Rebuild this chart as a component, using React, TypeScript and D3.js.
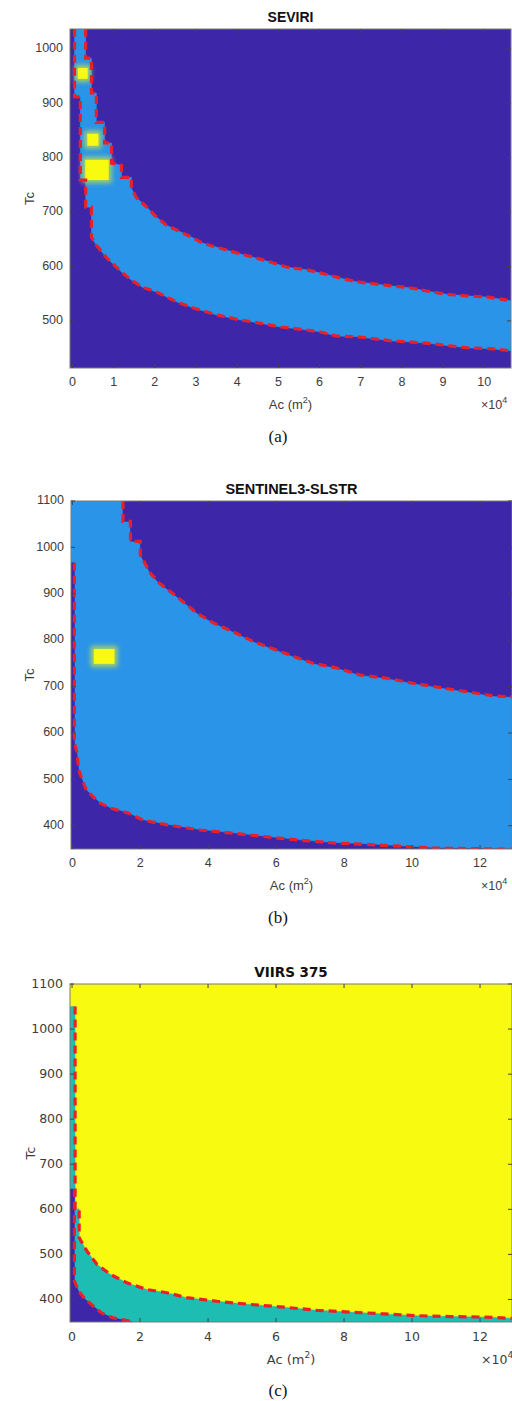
import React from 'react';
import * as d3 from 'd3';

// ---------- colours ----------
const DARK = '#3e26a8';
const LIGHT = '#2994e8';
const TEAL = '#1dbdb4';
const YELLOW = '#f8fa0f';
const RED = '#e8202a';

// ---------- panel (a) SEVIRI ----------
const aUpperA = [0.32, 0.32, 0.46, 0.46, 0.58, 0.58, 0.78, 0.78, 0.95, 0.95, 1.19, 1.19, 1.43, 1.43, 1.56, 1.75, 2.04, 2.28, 2.53, 2.89, 3.16, 3.57, 3.99, 4.54, 4.86, 5.2, 5.69, 6.08, 6.49, 6.9, 7.34, 7.78, 8.19, 8.6, 9.09, 9.57, 10.06, 10.65];
const aUpperT = [1037, 983, 983, 919, 919, 865, 865, 827, 827, 790, 786, 764, 764, 744, 726, 713, 691, 676, 667, 654, 643, 634, 625, 614, 607, 599, 594, 587, 579, 572, 568, 564, 561, 555, 549, 546, 544, 537];
const aLowerA = [0.05, 0.05, 0.19, 0.19, 0.32, 0.32, 0.46, 0.46, 0.58, 0.83, 1.19, 1.43, 1.7, 2.04, 2.53, 2.92, 3.5, 4.06, 4.54, 5.03, 5.52, 6.0, 6.42, 6.9, 7.34, 7.78, 8.26, 8.75, 9.16, 9.65, 10.13, 10.65];
const aLowerT = [1037, 912, 912, 759, 759, 709, 709, 654, 639, 616, 590, 575, 562, 553, 535, 524, 511, 502, 496, 489, 485, 480, 472, 471, 467, 463, 461, 458, 454, 450, 449, 445];
const aCellA0 = [0.13, 0.36, 0.31];
const aCellA1 = [0.37, 0.63, 0.88];
const aCellT0 = [945, 822, 759];
const aCellT1 = [965, 844, 796];
const aXTicks = [0, 1, 2, 3, 4, 5, 6, 7, 8, 9, 10];
const aYTicks = [500, 600, 700, 800, 900, 1000];

// ---------- panel (b) SENTINEL3-SLSTR ----------
const bUpperA = [1.49, 1.49, 1.71, 1.71, 2.0, 2.0, 2.29, 2.54, 2.88, 3.26, 3.67, 4.16, 4.74, 5.33, 5.92, 6.51, 7.1, 7.79, 8.47, 9.26, 10.04, 10.82, 11.61, 12.39, 12.94];
const bUpperT = [1100, 1056, 1056, 1013, 1013, 984, 945, 924, 905, 883, 858, 837, 818, 797, 781, 765, 750, 740, 725, 718, 707, 698, 689, 680, 678];
const bLowerA = [-0.04, 0.06, 0.06, 0.13, 0.19, 0.29, 0.41, 0.62, 0.82, 1.12, 1.62, 2.09, 2.79, 3.76, 4.74, 5.74, 6.71, 7.68, 8.68, 9.65, 10.62, 11.62, 12.94];
const bLowerT = [967, 967, 580, 560, 520, 499, 477, 462, 449, 438, 428, 412, 402, 391, 384, 376, 369, 363, 360, 356, 352, 351, 349.5];
const bCellA0 = [0.63];
const bCellA1 = [1.24];
const bCellT0 = [749];
const bCellT1 = [781];
const bXTicks = [0, 2, 4, 6, 8, 10, 12];
const bYTicks = [400, 500, 600, 700, 800, 900, 1000, 1100];

// ---------- panel (c) VIIRS 375 ----------
const cUpperA = [-0.06, 0.09, 0.09, 0.21, 0.21, 0.43, 0.73, 1.12, 1.61, 2.2, 2.79, 3.37, 4.26, 5.24, 6.22, 7.2, 8.18, 9.16, 10.14, 11.12, 12.1, 12.94];
const cUpperT = [1050, 1050, 601, 601, 537, 508, 478, 456, 437, 422, 415, 404, 396, 389, 383, 376, 372, 368, 364, 362, 361, 358];
const cLowerA = [-0.06, 0.07, 0.07, 0.19, 0.38, 0.63, 0.87, 1.21, 1.71, 1.76];
const cLowerT = [645, 645, 441, 419, 401, 385, 370, 359, 352, 350];
const cXTicks = [0, 2, 4, 6, 8, 10, 12];
const cYTicks = [400, 500, 600, 700, 800, 900, 1000, 1100];

type Pt = [number, number];
const zip = (a: number[], t: number[]): Pt[] => a.map((v, i) => [v, t[i]] as Pt);

interface Region { pts: Pt[]; fill: string; }
interface Cell { a0: number; a1: number; t0: number; t1: number; }
interface PanelProps {
  id: string;
  l: number; r: number; t: number; b: number;
  xDom: [number, number]; yDom: [number, number];
  xTicks: number[]; yTicks: number[];
  title: string; titleSize: number;
  font: string;
  bg: string;
  regions: Region[];
  lines: Pt[][];
  cells: Cell[];
  caption: string;
}

function Panel(p: PanelProps) {
  const x = d3.scaleLinear().domain(p.xDom).range([p.l, p.r]);
  const y = d3.scaleLinear().domain(p.yDom).range([p.b, p.t]);
  const line = d3.line<Pt>().x(d => x(d[0])).y(d => y(d[1]));
  const cx = (p.l + p.r) / 2;
  const cy = (p.t + p.b) / 2;
  const tl = 4;
  const tickColor = '#3c3c3c';
  return (
    <g fontFamily={p.font}>
      <defs>
        <clipPath id={`clip-${p.id}`}>
          <rect x={p.l} y={p.t} width={p.r - p.l} height={p.b - p.t} />
        </clipPath>
      </defs>
      <g clipPath={`url(#clip-${p.id})`}>
        <rect x={p.l} y={p.t} width={p.r - p.l} height={p.b - p.t} fill={p.bg} />
        {p.regions.map((rg, i) => (
          <path key={i} d={line(rg.pts) + 'Z'} fill={rg.fill} stroke={rg.fill} strokeWidth={0.5} />
        ))}
        {p.cells.map((c, i) => (
          <g key={i}>
            <rect x={x(c.a0) - 3} y={y(c.t1) - 3} width={x(c.a1) - x(c.a0) + 6} height={y(c.t0) - y(c.t1) + 6}
              fill="#b9dc52" opacity={0.85} filter="url(#glow)" />
            <rect x={x(c.a0)} y={y(c.t1)} width={x(c.a1) - x(c.a0)} height={y(c.t0) - y(c.t1)} fill={YELLOW} />
          </g>
        ))}
        {p.lines.map((ln, i) => (
          <path key={i} d={line(ln) || ''} fill="none" stroke={RED} strokeWidth={3.2} strokeDasharray="8 5" />
        ))}
      </g>
      <rect x={p.l} y={p.t} width={p.r - p.l} height={p.b - p.t} fill="none" stroke="#7a7a7a" strokeWidth={1} />
      {p.xTicks.map(v => (
        <g key={'x' + v}>
          <line x1={x(v)} x2={x(v)} y1={p.b} y2={p.b - tl} stroke="#444" />
          <line x1={x(v)} x2={x(v)} y1={p.t} y2={p.t + tl} stroke="#444" />
          <text x={x(v)} y={p.b + 15} textAnchor="middle" dominantBaseline="middle" fontSize={12.5} fill={tickColor}>{v}</text>
        </g>
      ))}
      {p.yTicks.map(v => (
        <g key={'y' + v}>
          <line x1={p.l} x2={p.l + tl} y1={y(v)} y2={y(v)} stroke="#444" />
          <line x1={p.r} x2={p.r - tl} y1={y(v)} y2={y(v)} stroke="#444" />
          <text x={p.l - 7} y={y(v)} textAnchor="end" dominantBaseline="middle" fontSize={12.5} fill={tickColor}>{v}</text>
        </g>
      ))}
      <text x={cx} y={p.t - 11} textAnchor="middle" dominantBaseline="middle" fontSize={p.titleSize} fontWeight="bold" fill="#111">{p.title}</text>
      <text transform={`translate(31,${cy}) rotate(-90)`} textAnchor="middle" dominantBaseline="middle" fontSize={13} fill={tickColor}>Tc</text>
      <text x={cx} y={p.b + 38} textAnchor="middle" dominantBaseline="middle" fontSize={13} fill={tickColor}>
        Ac (m<tspan fontSize={9} dy={-5}>2</tspan><tspan dy={5}>)</tspan>
      </text>
      <text x={481} y={p.b + 38} dominantBaseline="middle" fontSize={12.5} fill={tickColor}>
        ×10<tspan fontSize={9} dy={-5}>4</tspan>
      </text>
      <text x={278} y={p.b + 70} textAnchor="middle" dominantBaseline="middle" fontSize={17}
        fontFamily="'Liberation Serif', 'DejaVu Serif', serif" fill="#111">{p.caption}</text>
    </g>
  );
}

export default function App() {
  const aUp = zip(aUpperA, aUpperT);
  const aLo = zip(aLowerA, aLowerT);
  const bUp = zip(bUpperA, bUpperT);
  const bLo = zip(bLowerA, bLowerT);
  const cUp = zip(cUpperA, cUpperT);
  const cLo = zip(cLowerA, cLowerT);
  const toCells = (a0: number[], a1: number[], t0: number[], t1: number[]): Cell[] =>
    a0.map((v, i) => ({ a0: v, a1: a1[i], t0: t0[i], t1: t1[i] }));

  const aX: [number, number] = [-0.06, 10.65];
  const aY: [number, number] = [413.4, 1036.6];
  const bX: [number, number] = [-0.04, 12.94];
  const bY: [number, number] = [350, 1100];
  const cX: [number, number] = [-0.06, 12.94];
  const cY: [number, number] = [350, 1100];

  const sans = "'Liberation Sans', Arial, Helvetica, sans-serif";
  const deja = "'DejaVu Sans', sans-serif";

  return (
    <svg width={512} height={1401} style={{ position: 'absolute', left: 0, top: 0, background: '#fff' }}>
      <defs>
        <filter id="glow" x="-50%" y="-50%" width="200%" height="200%">
          <feGaussianBlur stdDeviation={2.5} />
        </filter>
      </defs>
      <rect x={0} y={0} width={512} height={1401} fill="#fff" />
      <Panel id="a" l={70} r={511} t={29} b={368} xDom={aX} yDom={aY}
        xTicks={aXTicks} yTicks={aYTicks} title="SEVIRI" titleSize={14} font={sans} bg={DARK}
        regions={[{ pts: [...aUp, ...aLo.slice().reverse()], fill: LIGHT }]}
        lines={[aUp, aLo]} cells={toCells(aCellA0, aCellA1, aCellT0, aCellT1)} caption="(a)" />
      <Panel id="b" l={71} r={512} t={501} b={849} xDom={bX} yDom={bY}
        xTicks={bXTicks} yTicks={bYTicks} title="SENTINEL3-SLSTR" titleSize={14.5} font={sans} bg={LIGHT}
        regions={[
          { pts: [...bUp, [bX[1], bY[1]]], fill: DARK },
          { pts: [...bLo, [bX[0], bY[0]]], fill: DARK },
        ]}
        lines={[bUp, bLo.slice(1)]} cells={toCells(bCellA0, bCellA1, bCellT0, bCellT1)} caption="(b)" />
      <Panel id="c" l={70} r={512} t={984} b={1322} xDom={cX} yDom={cY}
        xTicks={cXTicks} yTicks={cYTicks} title="VIIRS 375" titleSize={13.5} font={deja} bg={YELLOW}
        regions={[
          { pts: [...cUp, [cX[1], cY[0]], [cX[0], cY[0]]], fill: TEAL },
          { pts: [...cLo, [cX[0], cY[0]]], fill: DARK },
        ]}
        lines={[cUp.slice(1), cLo.slice(1)]} cells={[]} caption="(c)" />
    </svg>
  );
}
